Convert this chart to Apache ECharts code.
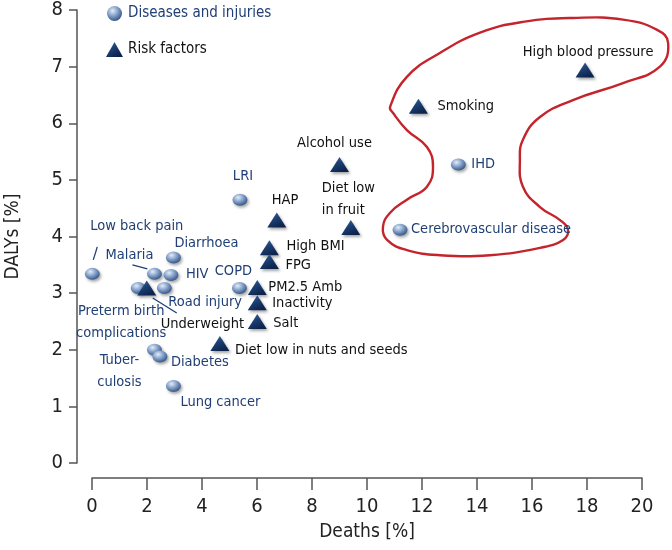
<!DOCTYPE html>
<html>
<head>
<meta charset="utf-8">
<title>Deaths vs DALYs</title>
<script src="https://cdn.jsdelivr.net/npm/echarts@6/dist/echarts.min.js"></script>
<style>
  html, body { margin: 0; padding: 0; background: #fff; }
  #chart { width: 672px; height: 550px; }
</style>
</head>
<body>
<div id="chart"></div>
<script>
// diseases and injuries: [deaths %, DALYs %]
var diseaseNames = ['Low back pain', 'Malaria', 'Diarrhoea', 'HIV', 'Road injury',
  'Preterm birth\ncomplications', 'COPD', 'Tuber-\nculosis', 'Diabetes', 'Lung cancer',
  'LRI', 'IHD', 'Cerebrovascular disease'];
var diseaseDeaths = [0.01, 2.27, 2.96, 2.87, 2.63, 1.68, 5.36, 2.27, 2.47, 2.96, 5.38, 13.32, 11.2];
var diseaseDalys = [3.34, 3.34, 3.63, 3.32, 3.09, 3.09, 3.09, 2.0, 1.88, 1.36, 4.65, 5.27, 4.12];

// risk factors
var riskNames = ['Alcohol use', 'Diet low\nin fruit', 'HAP', 'High BMI', 'FPG', 'PM2.5 Amb',
  'Inactivity', 'Salt', 'Diet low in nuts and seeds', 'Underweight', 'High blood pressure', 'Smoking'];
var riskDeaths = [9.0, 9.41, 6.72, 6.45, 6.45, 6.01, 6.01, 6.01, 4.65, 1.99, 17.93, 11.87];
var riskDalys = [5.27, 4.16, 4.29, 3.80, 3.56, 3.10, 2.83, 2.50, 2.11, 3.09, 6.94, 6.30];

// outline drawn around the leading causes
var outlineDeaths = [10.84, 11.45, 12.65, 14.11, 15.67, 17.49, 19.31, 20.55, 20.95, 20.65, 19.31, 17.49,
  16.29, 15.67, 15.56, 15.67, 16.29, 17.02, 17.31, 17.13, 16.29, 14.47, 12.65, 11.45, 10.73, 10.58,
  10.84, 11.45, 12.18, 12.40, 12.18, 11.45, 10.95];
var outlineDalys = [6.29, 6.82, 7.24, 7.60, 7.79, 7.86, 7.83, 7.65, 7.42, 7.00, 6.71, 6.41,
  6.11, 5.71, 5.35, 4.88, 4.52, 4.29, 4.12, 3.94, 3.80, 3.67, 3.67, 3.76, 3.94, 4.17,
  4.42, 4.65, 4.88, 5.23, 5.58, 5.88, 6.18];

var xTicks = [0, 2, 4, 6, 8, 10, 12, 14, 16, 18, 20];
var yTicks = [0, 1, 2, 3, 4, 5, 6, 7, 8];

// label placement: [dx, dy, align]
var labelPlace = {
  'Low back pain': [-2, -48, 'left'],
  'Malaria': [-1, -19, 'right'],
  'Diarrhoea': [1, -14, 'left'],
  'HIV': [15, -1, 'left'],
  'Road injury': [4, 14, 'left'],
  'Preterm birth\ncomplications': [-17, 34, 'center'],
  'COPD': [-6, -17, 'center'],
  'Tuber-\nculosis': [-35, 21, 'center'],
  'Diabetes': [11, 6, 'left'],
  'Lung cancer': [7, 16, 'left'],
  'LRI': [3, -23, 'center'],
  'IHD': [13, 0, 'left'],
  'Cerebrovascular disease': [11, 0, 'left'],
  'Alcohol use': [-5, -21, 'center'],
  'Diet low\nin fruit': [-29, -28, 'left'],
  'HAP': [-5, -20, 'left'],
  'High BMI': [17, -2, 'left'],
  'FPG': [16, 4, 'left'],
  'PM2.5 Amb': [11, 0, 'left'],
  'Inactivity': [15, 0, 'left'],
  'Salt': [16, 2, 'left'],
  'Diet low in nuts and seeds': [15, 7, 'left'],
  'Underweight': [14, 36, 'left'],
  'High blood pressure': [3, -18, 'center'],
  'Smoking': [19, 0, 'left']
};

// leader lines, pixel offsets from the point
var leaders = [
  { series: 'd', name: 'Low back pain', from: [1, -14], to: [5, -27] },
  { series: 'd', name: 'Malaria', from: [-7, -5], to: [-22, -9] },
  { series: 'r', name: 'Underweight', from: [6, 10], to: [30, 25] }
];

var FONT = '"Liberation Sans Narrow", "DejaVu Sans Condensed", sans-serif';
var blueText = '#1f3f75';
var darkText = '#111';

function buildPoints(names, xs, ys, color) {
  return names.map(function (n, i) {
    var p = labelPlace[n];
    return {
      name: n,
      value: [xs[i], ys[i]],
      label: {
        show: true,
        position: 'inside',
        align: p[2],
        verticalAlign: 'middle',
        offset: [p[0], p[1]],
        formatter: n,
        color: color,
        fontFamily: FONT,
        fontSize: 14.5,
        lineHeight: 22
      }
    };
  });
}

var sphereStyle = {
  opacity: 1,
  color: {
    type: 'radial', x: 0.38, y: 0.32, r: 0.75,
    colorStops: [
      { offset: 0, color: '#e3ecf7' },
      { offset: 0.45, color: '#86a3cc' },
      { offset: 1, color: '#2a4a7c' }
    ]
  },
  shadowColor: 'rgba(0,0,0,0.35)',
  shadowBlur: 3,
  shadowOffsetX: 1.5,
  shadowOffsetY: 2
};

var triangleStyle = {
  opacity: 1,
  color: {
    type: 'linear', x: 0, y: 0, x2: 0.6, y2: 1,
    colorStops: [
      { offset: 0, color: '#3f6ca5' },
      { offset: 0.5, color: '#1c3f73' },
      { offset: 1, color: '#0d234b' }
    ]
  },
  shadowColor: 'rgba(0,0,0,0.35)',
  shadowBlur: 3,
  shadowOffsetX: 1.5,
  shadowOffsetY: 2
};

var chart = echarts.init(document.getElementById('chart'));

chart.setOption({
  animation: false,
  backgroundColor: '#fff',
  grid: { left: 92, right: 30, top: 10, bottom: 87, outerBoundsMode: 'none', containLabel: false },
  legend: {
    orient: 'vertical',
    left: 101,
    top: 1,
    itemWidth: 17,
    itemHeight: 15,
    itemGap: 21,
    textStyle: { fontFamily: FONT, fontSize: 15 },
    data: [
      { name: 'Diseases and injuries', icon: 'circle', textStyle: { color: blueText } },
      { name: 'Risk factors', icon: 'triangle', textStyle: { color: darkText } }
    ]
  },
  xAxis: {
    type: 'value',
    min: xTicks[0],
    max: xTicks[xTicks.length - 1],
    interval: 2,
    offset: 15,
    name: 'Deaths [%]',
    nameLocation: 'middle',
    nameGap: 45,
    nameTextStyle: { fontFamily: FONT, fontSize: 19, color: '#222' },
    axisLine: { show: true, onZero: false, lineStyle: { color: '#555', width: 1.5 } },
    axisTick: { show: true, inside: false, length: 12, lineStyle: { color: '#555', width: 1.5 } },
    axisLabel: { fontFamily: FONT, fontSize: 20, color: '#222', margin: 19 },
    splitLine: { show: false }
  },
  yAxis: {
    type: 'value',
    min: yTicks[0],
    max: yTicks[yTicks.length - 1],
    interval: 1,
    offset: 15,
    name: 'DALYs [%]',
    nameLocation: 'middle',
    nameGap: 54,
    nameTextStyle: { fontFamily: FONT, fontSize: 19, color: '#222' },
    axisLine: { show: true, onZero: false, lineStyle: { color: '#555', width: 1.5 } },
    axisTick: { show: true, length: 8, lineStyle: { color: '#555', width: 1.5 } },
    axisLabel: { fontFamily: FONT, fontSize: 20, color: '#222', margin: 14 },
    splitLine: { show: false }
  },
  series: [
    {
      type: 'custom',
      name: 'outline',
      silent: true,
      clip: false,
      z: 1,
      data: [[0, 0]],
      renderItem: function (params, api) {
        var pts = outlineDeaths.map(function (x, i) {
          return api.coord([x, outlineDalys[i]]);
        });
        return {
          type: 'polygon',
          shape: { points: pts, smooth: 0.45 },
          style: { fill: 'none', stroke: '#c4242c', lineWidth: 2.4 }
        };
      }
    },
    {
      type: 'custom',
      name: 'leaders',
      silent: true,
      clip: false,
      z: 2,
      data: leaders.map(function (l) {
        var names = l.series === 'd' ? diseaseNames : riskNames;
        var xs = l.series === 'd' ? diseaseDeaths : riskDeaths;
        var ys = l.series === 'd' ? diseaseDalys : riskDalys;
        var k = names.indexOf(l.name);
        return [xs[k], ys[k]];
      }),
      renderItem: function (params, api) {
        var l = leaders[params.dataIndex];
        var c = api.coord([api.value(0), api.value(1)]);
        return {
          type: 'line',
          shape: { x1: c[0] + l.from[0], y1: c[1] + l.from[1], x2: c[0] + l.to[0], y2: c[1] + l.to[1] },
          style: { stroke: blueText, lineWidth: 1.3 }
        };
      }
    },
    {
      type: 'scatter',
      name: 'Diseases and injuries',
      symbol: 'circle',
      symbolSize: [15, 12],
      itemStyle: sphereStyle,
      z: 3,
      data: buildPoints(diseaseNames, diseaseDeaths, diseaseDalys, blueText)
    },
    {
      type: 'scatter',
      name: 'Risk factors',
      symbol: 'triangle',
      symbolSize: [19, 15],
      itemStyle: triangleStyle,
      z: 3,
      data: buildPoints(riskNames, riskDeaths, riskDalys, darkText)
    }
  ]
});
</script>
</body>
</html>
